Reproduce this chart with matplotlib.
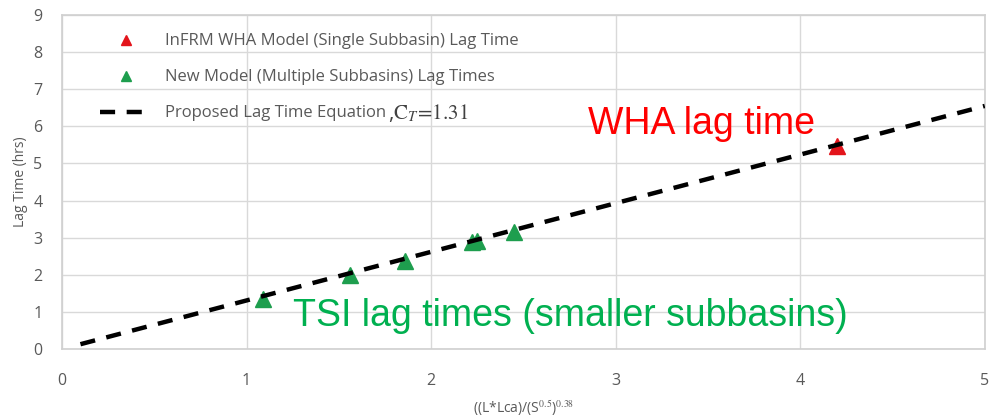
import matplotlib.pyplot as plt

# values
tsi_x = [1.09, 1.56, 1.86, 2.22, 2.25, 2.45]
tsi_y = [1.36, 2.00, 2.38, 2.88, 2.92, 3.15]
wha_x = [4.20]
wha_y = [5.47]
eq_x = [0.1, 5.0]
eq_y = [0.13, 6.55]

xticks = [0, 1, 2, 3, 4, 5]
yticks = list(range(0, 10))

plt.rcParams['font.family'] = ['Open Sans', 'DejaVu Sans']
plt.rcParams['mathtext.fontset'] = 'stix'

grey = '#595959'
fig = plt.figure(figsize=(9.89, 4.18), dpi=100)
ax = fig.add_axes([0.0627, 0.165, 0.933, 0.799])

ax.plot(wha_x, wha_y, linestyle='none', marker='^', color='#e3141b', markersize=11,
        label='InFRM WHA Model (Single Subbasin) Lag Time', zorder=3)
ax.plot(tsi_x, tsi_y, linestyle='none', marker='^', color='#1e9e4e', markersize=11,
        label='New Model (Multiple Subbasins) Lag Times', zorder=3)
ax.plot(eq_x, eq_y, color='black', linewidth=3.2, dashes=(3.4, 2.6),
        label='Proposed Lag Time Equation', zorder=4)

ax.set_xlim(0, 5)
ax.set_ylim(0, 9)
ax.set_xticks(xticks)
ax.set_yticks(yticks)
ax.grid(True, color='#d9d9d9', linewidth=1)
ax.set_axisbelow(True)
for s in ax.spines.values():
    s.set_color('#d0d0d0')
    s.set_linewidth(1.2)
ax.tick_params(length=0, colors=grey, labelsize=11.5, pad=14)
ax.tick_params(axis='x', pad=17)

ax.set_xlabel(r'((L*Lca)/(S$^{0.5}$)$^{0.38}$', color=grey, fontsize=10, labelpad=7)
ax.set_ylabel('Lag Time (hrs)', color=grey, fontsize=10, labelpad=4)

leg = ax.legend(loc='upper left', bbox_to_anchor=(0.041, 0.945), frameon=False,
                fontsize=12, labelspacing=1.2, handlelength=3.1, markerscale=0.6,
                borderpad=0, borderaxespad=0)
for t in leg.get_texts():
    t.set_color(grey)

# C_T value written after the equation label, in a larger serif face
fig.canvas.draw()
bb = leg.get_texts()[2].get_window_extent()
x0, y0 = fig.transFigure.inverted().transform((bb.x1 + 2, (bb.y0 + bb.y1) / 2))
fig.text(x0, y0, r',$\mathrm{C}_T\!=\!1.31$', color='#404040', fontsize=15, va='center')

ax.text(2.85, 6.06, 'WHA lag time', color='#ff0000', fontsize=27,
        family='Liberation Sans', va='center')
ax.text(1.25, 0.89, 'TSI lag times (smaller subbasins)', color='#00b050', fontsize=27,
        family='Liberation Sans', va='center')

fig.savefig('out.png', dpi=100)
